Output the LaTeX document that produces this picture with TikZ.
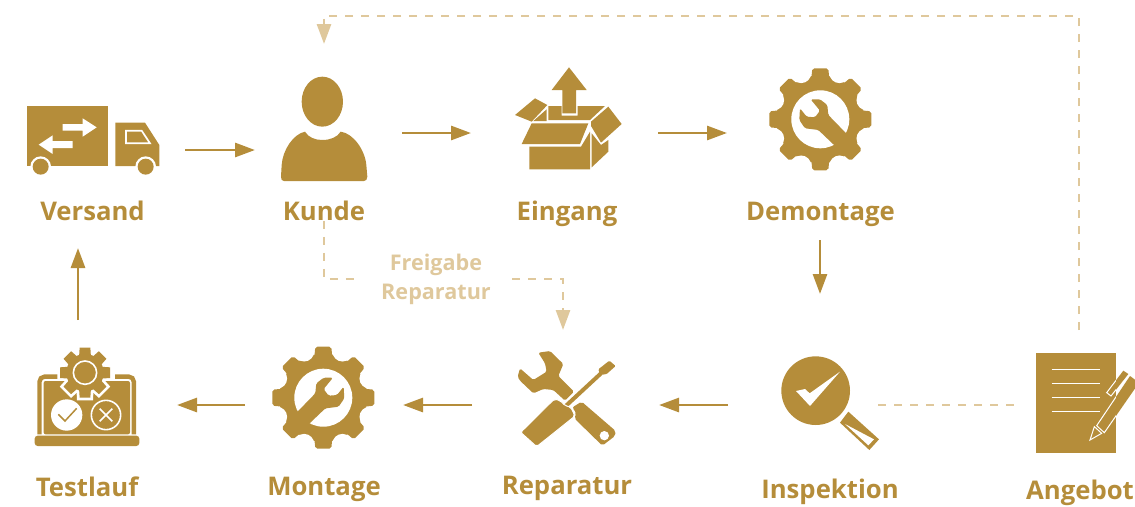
\documentclass[tikz,border=0pt]{standalone}
\usepackage{fontspec}
\setmainfont{Open Sans}
\usetikzlibrary{arrows.meta}
\definecolor{gold}{HTML}{B58D3A}
\definecolor{pale}{HTML}{DFC89C}
\tikzset{
  hub/.style={inner sep=0pt,outer sep=0pt,draw=none},
  lab/.style={font=\bfseries\fontsize{25.7}{25.7}\selectfont,text=gold,inner sep=0pt,outer sep=0pt,anchor=base},
  flow/.style={draw=gold,line width=2.8pt,-{Triangle[length=20pt,width=14pt]}},
  wait/.style={draw=pale,line width=2.8pt,dash pattern=on 8pt off 8pt},
  waitarrow/.style={wait,-{Triangle[length=20pt,width=14pt]}},
  z3/.style={scale=0.33333},
  cut/.style={fill=white},
  ink/.style={fill=gold}
}
\newcommand{\gearwrench}{%
  \fill[ink] (0,0) circle[radius=132pt];
  \foreach \a in {0,45,...,315}{\fill[ink,rotate=\a,rounded corners=2pt] (-29,-100) -- (-24,-153) -- (24,-153) -- (29,-100) -- cycle;}
  \foreach \a in {22.5,67.5,...,337.5}{\fill[cut,rotate=\a] (0,-150) circle[radius=30pt];}
  \fill[cut] (0,0) circle[radius=87pt];
  \begin{scope}
    \clip (0,0) circle[radius=92pt];
    \fill[ink,rounded corners=1.5pt] (-29,-60) -- (-1,-26) -- (-16,-6) -- (-41,-8) -- (-61,-33) -- (-63,2) -- (-46,27) -- (-6,32) -- (60,95) -- (90,55) -- (24,-13) -- (21,-43) -- (-1,-60) -- cycle;
  \end{scope}
}
\begin{document}
\begin{tikzpicture}[x=1pt,y=-1pt]
\useasboundingbox (0,0) rectangle (1135,506);
\clip (0,0) rectangle (1135,506);

% anchors of the eight stations
\node[hub,minimum width=214pt,minimum height=196pt] (versand) at (78,150) {};
\node[hub,minimum width=156pt,minimum height=162pt] (kunde) at (324,133) {};
\node[hub,minimum width=187pt,minimum height=100pt] (eingang) at (564.5,133) {};
\node[hub,minimum width=186pt,minimum height=214pt] (demontage) at (820,133) {};
\node[hub,minimum width=198pt,minimum height=170pt] (testlauf) at (78,405) {};
\node[hub,minimum width=158pt,minimum height=100pt] (montage) at (324,405) {};
\node[hub,minimum width=192pt,minimum height=150pt] (reparatur) at (563,405) {};
\node[hub,minimum width=184pt,minimum height=222pt] (inspektion) at (820,405) {};
\node[hub,minimum width=122pt,minimum height=150pt] (angebot) at (1079,405) {};
\coordinate (inspout) at (878,405);

% labels
\node[lab] (lversand) at (92.5,220.7) {Versand};
\node[lab] (lkunde) at (324,220.7) {Kunde};
\node[lab] (leingang) at (567,220.7) {Eingang};
\node[lab] (ldemontage) at (820.5,220.7) {Demontage};
\node[lab] (ltestlauf) at (87,496) {Testlauf};
\node[lab] (lmontage) at (324,495) {Montage};
\node[lab] (lreparatur) at (567,494.5) {Reparatur};
\node[lab] (linspektion) at (830,498.5) {Inspektion};
\node[lab] (langebot) at (1080,499.5) {Angebot};
\node[font=\bfseries\fontsize{21.6}{29}\selectfont,text=pale,align=center,inner sep=0pt,outer sep=0pt,minimum width=152pt] (freigabe) at (436,279) {\rule{0pt}{18pt}Freigabe\\Reparatur};

% connectors
\draw[flow,shorten >=-9pt] (versand.east) -- (versand.east -| kunde.west);
\draw[flow] (kunde.east) -- (eingang.west);
\draw[flow] (eingang.east) -- (demontage.west);
\draw[flow] (demontage.south) -- (inspektion.north);
\draw[flow] (inspektion.west) -- (reparatur.east);
\draw[flow,shorten <=-5pt] (reparatur.west) -- (montage.east);
\draw[flow] (montage.west) -- (testlauf.east);
\draw[flow] (testlauf.north) -- (versand.south);
\draw[wait] (lkunde.south) |- (freigabe.west);
\draw[waitarrow] (freigabe.east) -| (reparatur.north);
\draw[wait] (inspout) -- (angebot.west);
\draw[waitarrow,shorten >=8pt] (angebot.north) |- (700,16) -| (kunde.north);

% truck
\begin{scope}[shift={(0,60)},z3]
  \fill[ink] (80,137) rectangle (325,318);
  \fill[ink] (346,188) -- (435,188) -- (478,255) -- (478,318) -- (346,318) -- cycle;
  \draw[white,line width=1.7pt,fill=gold] (378,212) -- (425,212) -- (450,250) -- (378,250) -- cycle;
  \fill[cut] (188,192) -- (248,192) -- (248,175) -- (290,202) -- (248,230) -- (248,212) -- (188,212) -- cycle;
  \fill[cut] (218,243) -- (158,243) -- (158,226) -- (116,254) -- (158,282) -- (158,264) -- (218,264) -- cycle;
  \fill[cut] (122,320) circle[radius=31pt];
  \fill[cut] (437,320) circle[radius=31pt];
  \fill[ink] (122,320) circle[radius=24pt];
  \fill[ink] (437,320) circle[radius=24pt];
  % person
  \fill[ink] (967,125) ellipse[x radius=62pt,y radius=75pt];
  \fill[ink] (852,363) .. controls (845,363) and (843,358) .. (843,350) -- (845,315)
    .. controls (848,270) and (880,222) .. (915,215)
    .. controls (925,232) and (945,240) .. (967,240)
    .. controls (990,240) and (1012,232) .. (1022,215)
    .. controls (1060,220) and (1095,270) .. (1099,315) -- (1102,350)
    .. controls (1102,358) and (1098,363) .. (1092,363) -- cycle;
\end{scope}

% open box
\begin{scope}[shift={(500,50)},z3]
  \fill[ink] (207,52) -- (260,120) -- (228,120) -- (228,190) -- (187,190) -- (187,120) -- (155,120) -- cycle;
  \fill[ink] (145,168) -- (185,168) -- (185,197) -- (233,197) -- (233,168) -- (315,168) -- (270,210) -- (145,210) -- cycle;
  \fill[ink] (100,213) -- (140,178) -- (140,213) -- cycle;
  \fill[ink] (45,195) -- (105,145) -- (142,165) -- (95,215) -- cycle;
  \fill[ink] (95,220) -- (265,220) -- (240,282) -- (65,282) -- cycle;
  \fill[ink] (88,290) -- (243,290) -- (270,245) -- (270,358) -- (88,358) -- cycle;
  \fill[ink] (275,250) -- (303,285) -- (325,270) -- (325,305) -- (275,352) -- cycle;
  \fill[ink] (273,215) -- (325,170) -- (365,222) -- (303,278) -- (273,228) -- cycle;
\end{scope}

% gears with wrench
\begin{scope}[shift={(820.3,119.3)},z3]
  \gearwrench
\end{scope}
\begin{scope}[shift={(323.3,397.7)},xscale=-0.33333,yscale=0.33333]
  \gearwrench
\end{scope}

% laptop with gear
\begin{scope}[shift={(30,345)},z3]
  \draw[gold,line width=4.4pt,rounded corners=5pt] (95,95) -- (28.5,95) -- (28.5,268);
  \draw[gold,line width=4.4pt,rounded corners=5pt] (255,95) -- (311.5,95) -- (311.5,268);
  \fill[ink,rounded corners=2pt] (41,108) -- (300,108) -- (300,268) -- (41,268) -- cycle;
  \fill[ink,rounded corners=3pt] (14,272) -- (328,272) -- (328,303) -- (14,303) -- cycle;
  \fill[cut] (165,83) circle[radius=62pt];
  \foreach \a in {0,45,...,315}{\fill[cut,rotate around={\a:(165,83)}] (137,83) -- (141,0) -- (189,0) -- (193,83) -- cycle;}
  \fill[ink] (165,83) circle[radius=56pt];
  \foreach \a in {0,45,...,315}{\fill[ink,rotate around={\a:(165,83)}] (144,83) -- (149,8) -- (181,8) -- (186,83) -- cycle;}
  \draw[white,line width=1.6pt] (165,83) circle[radius=35pt];
  \fill[cut] (110,210) circle[radius=47pt];
  \draw[gold,line width=1.5pt] (85,208) -- (105,228) -- (140,190);
  \draw[white,line width=1.6pt] (228,210) circle[radius=44pt];
  \draw[white,line width=1.6pt] (209,191) -- (247,229) (209,229) -- (247,191);
\end{scope}

% wrench and screwdriver
\begin{scope}[shift={(515,350)},z3]
  \fill[ink,rounded corners=1.5pt] (70,8) -- (105,3) -- (145,42) -- (130,78) -- (177,125) -- (150,152) -- (115,120) -- (85,117) -- (55,130) -- (15,92) -- (8,80) -- (15,55) -- (55,90) -- (95,65) -- (90,40) -- cycle;
  \fill[ink,rounded corners=2pt] (200,155) -- (302,243) -- (300,258) -- (262,287) -- (178,205) -- (184,190) -- (172,172) -- cycle;
  \fill[cut] (268,257) circle[radius=14pt];
  \draw[white,line width=6.2pt] (258,70) -- (150,170);
  \draw[gold,line width=4pt] (258,70) -- (150,170);
  \fill[ink,rounded corners=1pt] (250,58) -- (283,32) -- (302,48) -- (275,72) -- (256,75) -- cycle;
  \draw[white,line width=1pt,fill=gold,rounded corners=2pt] (118,147) -- (136,152) -- (150,167) -- (167,171) -- (180,198) -- (65,290) -- (17,247) -- cycle;
\end{scope}

% magnifier
\begin{scope}[shift={(500,340)},z3]
  \fill[ink] (947,152) circle[radius=103pt];
  \fill[cut] (888,153) -- (915,147) -- (929,160) -- (1020,95) -- (930,198) -- cycle;
  \fill[ink] (1045,215) -- (1137,298) -- (1108,330) -- (1020,248) -- cycle;
  \fill[cut] (1035,252) -- (1122,298) -- (1105,316) -- cycle;
\end{scope}

% document and pen
\begin{scope}[shift={(1000,340)},z3]
  \fill[ink] (107,40) rectangle (348,340);
  \foreach \y in {88,130,172,215}{\draw[white,line width=1.1pt] (155,\y) -- (300,\y);}
\end{scope}
\begin{scope}[shift={(1075,360)},z3]
  \draw[white,line width=1pt,fill=gold] (65,197) -- (165,48) -- (192,68) -- (88,218) -- cycle;
  \draw[white,line width=1pt,fill=gold] (95,98) -- (145,32) -- (160,42) -- (108,108) -- cycle;
  \draw[white,line width=1pt,fill=gold,line join=miter] (45,240) -- (58,200) -- (80,220) -- cycle;
  \begin{scope}
    \clip (123,0) rectangle (200,200);
    \fill[ink] (65,197) -- (165,48) -- (192,68) -- (88,218) -- cycle;
    \fill[ink] (95,98) -- (145,32) -- (160,42) -- (108,108) -- cycle;
  \end{scope}
\end{scope}
\end{tikzpicture}
\end{document}
